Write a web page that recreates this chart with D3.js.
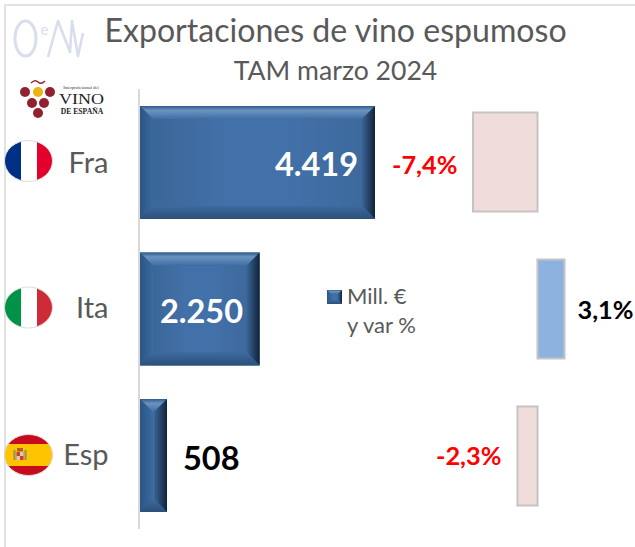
<!DOCTYPE html>
<html><head><meta charset="utf-8">
<script src="https://cdn.jsdelivr.net/npm/d3@7/dist/d3.min.js"></script>
<style>html,body{margin:0;padding:0;background:#fff;overflow:hidden}svg{display:block}text{font-family:Lato,"Open Sans",sans-serif}</style>
</head><body><svg id="c" width="635" height="547"></svg>
<script>
const categories = ["Fra","Ita","Esp"];
const values = [4419,2250,508];
const valueLabels = ["4.419","2.250","508"];
const variation = [-7.4,3.1,-2.3];
const variationLabels = ["-7,4%","3,1%","-2,3%"];
const title = "Exportaciones de vino espumoso";
const subtitle = "TAM marzo 2024";
const legendLines = ["Mill. €","y var %"];

const svg = d3.select("#c"), defs = svg.append("defs");
const x = d3.scaleLinear().domain([0,4419]).range([140,375]);
const xv = d3.scaleLinear().domain([-7.4,3.1]).range([473,564.5]);
const y = d3.scaleBand().domain(categories).range([89,529]).paddingInner(0.2287).paddingOuter(0.116);
const yv = d3.scaleBand().domain(categories).range([89,529]).paddingInner(0.3265).paddingOuter(0.16);

// frame
svg.append("rect").attr("x",5).attr("y",5).attr("width",640).attr("height",560).attr("fill","#fff").attr("stroke","#e2e2e2").attr("stroke-width",2);

// gradients
function grad(id,dir,stops){const g=defs.append("linearGradient").attr("id",id);
  const c={l:[0,0,1,0],b:[0,1,0,0],t:[0,0,0,1]}[dir];
  g.attr("x1",c[0]).attr("y1",c[1]).attr("x2",c[2]).attr("y2",c[3]);
  stops.forEach((s,i)=>g.append("stop").attr("offset",i/(stops.length-1)).attr("stop-color",s));}
grad("gFace","l",["#3b6699","#4270a8","#4270a8","#3d699d"]);
grad("gTop","t",["#2f5a8a","#6c93c0","#5582b5","#406da3"]);
grad("gLeft","l",["#2a5585","#3c6a9f"]);
grad("gRight","l",["#3a6597","#10233a"]);
grad("gBottom","t",["#3d6a9e","#2b4f7a"]);

// axis line
svg.append("line").attr("x1",139).attr("x2",139).attr("y1",89).attr("y2",529).attr("stroke","#d9d9d9").attr("stroke-width",2);

function bevel(g,x0,y0,x1,y1,b){
  const bx=Math.min(b,(x1-x0)/2), by=b;
  const q=[[x0+bx,y0+by],[x1-bx,y0+by],[x1-bx,y1-by],[x0+bx,y1-by]];
  const o=[[x0,y0],[x1,y0],[x1,y1],[x0,y1]];
  const poly=(pts,f)=>g.append("polygon").attr("points",pts.join(" ")).attr("fill",f);
  poly(o,"#3d699d");
  poly(q,"url(#gFace)");
  poly([o[0],o[1],q[1],q[0]],"url(#gTop)");
  poly([o[1],o[2],q[2],q[1]],"url(#gRight)");
  poly([o[2],o[3],q[3],q[2]],"url(#gBottom)");
  poly([o[3],o[0],q[0],q[3]],"url(#gLeft)");
}
categories.forEach((c,i)=>bevel(svg.append("g"),x(0),y(c),x(values[i]),y(c)+y.bandwidth(),13));

// value labels
svg.selectAll(".vl").data(categories).join("text")
  .attr("x",(c,i)=>i==0?358:i==1?243:183)
  .attr("text-anchor",(c,i)=>i==2?"start":"end")
  .attr("y",c=>y(c)+y.bandwidth()/2+14)
  .attr("font-size",32.5).attr("font-weight",700)
  .attr("fill",(c,i)=>i==2?"#000":"#fff")
  .text((c,i)=>valueLabels[i]);

// variation bars
svg.selectAll(".vb").data(categories).join("rect")
  .attr("x",(c,i)=>Math.min(xv(0),xv(variation[i])))
  .attr("width",(c,i)=>Math.abs(xv(variation[i])-xv(0)))
  .attr("y",c=>yv(c)).attr("height",yv.bandwidth())
  .attr("fill",(c,i)=>variation[i]<0?"#f0dcdb":"#8eb2e0")
  .attr("stroke","#c4c4c4").attr("stroke-width",2);

svg.selectAll(".vt").data(categories).join("text")
  .attr("x",(c,i)=>[392,577.5,436][i])
  .attr("y",(c,i)=>[174,319,465][i])
  .attr("font-size",25.3).attr("font-weight",700)
  .attr("fill",(c,i)=>variation[i]<0?"#ff0000":"#000")
  .text((c,i)=>variationLabels[i]);

// category labels
svg.selectAll(".cat").data(categories).join("text")
  .attr("x",108.5).attr("text-anchor","end")
  .attr("y",(c,i)=>[173,318,465][i])
  .attr("font-size",29).attr("fill","#595959").text(c=>c);

// titles
svg.append("text").attr("x",335.5).attr("y",42).attr("text-anchor","middle").attr("font-size",32.1).attr("fill","#595959").text(title);
svg.append("text").attr("x",335.5).attr("y",80).attr("text-anchor","middle").attr("font-size",26.6).attr("fill","#595959").text(subtitle);

// legend
bevel(svg.append("g"),327,290,342,304,4);
svg.selectAll(".lg").data(legendLines).join("text").attr("x",347).attr("y",(d,i)=>304+i*29)
  .attr("font-size",22).attr("fill","#595959").text(d=>d);

// flags
function flag(id,cy,draw){
  defs.append("clipPath").attr("id",id).append("ellipse").attr("cx",28.5).attr("cy",cy).attr("rx",24).attr("ry",20.5);
  const g=svg.append("g").attr("clip-path",`url(#${id})`); draw(g,cy);
  svg.append("ellipse").attr("cx",28.5).attr("cy",cy).attr("rx",24).attr("ry",20.5).attr("fill","none").attr("stroke","#dcdcdc").attr("stroke-width",1);
}
const band=(g,x0,y0,w,h,f)=>g.append("rect").attr("x",x0).attr("y",y0).attr("width",w).attr("height",h).attr("fill",f);
flag("fFr",161,(g,cy)=>{band(g,4,cy-21,17,42,"#002f86");band(g,21,cy-21,16,42,"#fff");band(g,37,cy-21,17,42,"#e3002b");});
flag("fIt",307.5,(g,cy)=>{band(g,4,cy-21,17,42,"#009246");band(g,21,cy-21,16,42,"#fff");band(g,37,cy-21,17,42,"#ce2b37");});
flag("fEs",455,(g,cy)=>{band(g,4,cy-21,50,42,"#c60b1e");band(g,4,cy-11,50,22,"#ffc400");
  band(g,13.5,cy-5,2,10,"#9a8a70");band(g,24.5,cy-5,2,10,"#9a8a70");
  band(g,16.5,cy-3,7,8,"#c4442e");band(g,20,cy-3,3.5,4,"#d8c7c0");band(g,16.5,cy+1,3.5,4,"#d8c7c0");
  band(g,17,cy-7,6,3.5,"#b0602a");});

// logos
const o=svg.append("g").attr("fill","none").attr("stroke","#d9deee").attr("stroke-width",3);
o.append("ellipse").attr("cx",25.5).attr("cy",38.5).attr("rx",10.5).attr("ry",17.5);
o.append("path").attr("d","M48 57 L58 21 L70 52 L72 21 L78 56 L83 33").attr("stroke-width",2.6).attr("stroke-linejoin","round");
svg.append("text").attr("x",40.5).attr("y",35).attr("font-size",15).attr("fill","#d9deee").text("e");

const grapes=[[25,92],[38,92],[50,92],[32,103],[44,103],[38,113]];
svg.selectAll(".gr").data(grapes).join("circle").attr("cx",d=>d[0]).attr("cy",d=>d[1]).attr("r",5)
  .attr("fill",(d,i)=>i==1?"#eeb211":"#93202f");
svg.append("path").attr("d","M31 83 Q35 79 38 82 T45 81").attr("fill","none").attr("stroke","#93202f").attr("stroke-width",1.4);
svg.append("text").attr("x",81).attr("y",89).attr("text-anchor","middle").attr("font-size",4.5).attr("fill","#333").style("font-family","Liberation Serif").text("Interprofesional del");
svg.append("text").attr("x",59).attr("y",104).attr("textLength",45).attr("lengthAdjust","spacingAndGlyphs").attr("font-size",15).attr("fill","#222").style("font-family","Liberation Serif").text("VINO");
svg.append("text").attr("x",82).attr("y",114.4).attr("text-anchor","middle").attr("font-size",7.6).attr("font-weight",700).attr("fill","#222").style("font-family","Liberation Serif").text("DE ESPAÑA");
</script></body></html>
